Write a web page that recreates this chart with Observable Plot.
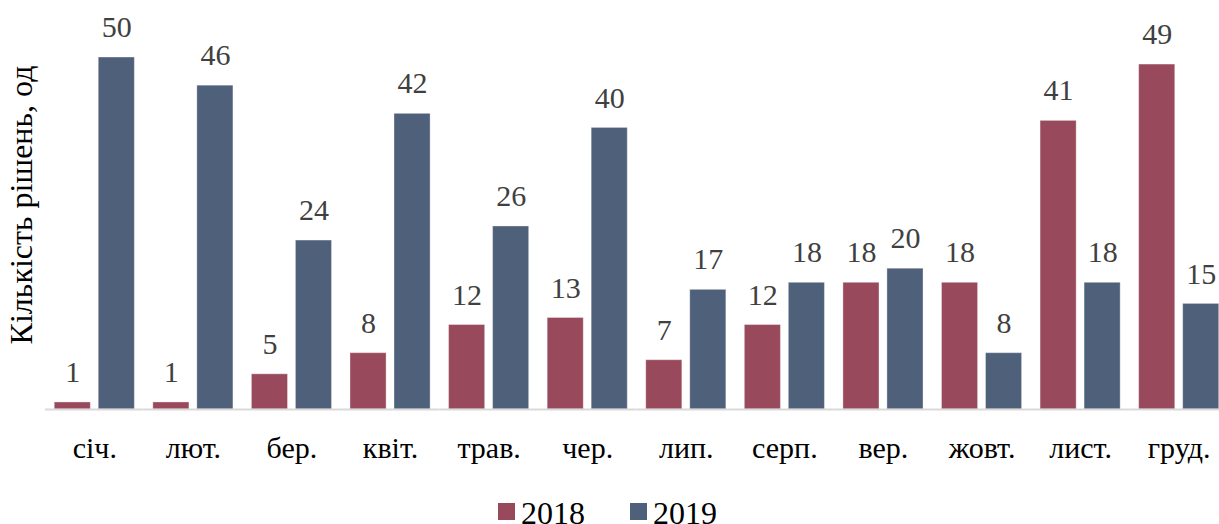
<!DOCTYPE html>
<html>
<head>
<meta charset="utf-8">
<script src="https://cdn.jsdelivr.net/npm/d3@7"></script>
<script src="https://cdn.jsdelivr.net/npm/@observablehq/plot@0.6"></script>
<style>
  html, body { margin: 0; padding: 0; background: white; }
  #chart svg { display: block; }
  #chart svg text { font-family: 'Liberation Serif', 'Times New Roman', serif; }
  #chart svg g[aria-label="y-axis label"] text { font-size: 32px; }
  #legend { position: relative; height: 28px; font-family: 'Liberation Serif', 'Times New Roman', serif; font-size: 32px; line-height: 34px; color: #000; overflow: visible; }
  .item { position: absolute; top: 0; display: flex; align-items: flex-start; }
  .sw { width: 17px; height: 17px; margin-top: 7px; margin-right: 6px; }
</style>
</head>
<body>
<div id="chart"></div>
<div id="legend"></div>
<script>
const months = ["січ.","лют.","бер.","квіт.","трав.","чер.","лип.","серп.","вер.","жовт.","лист.","груд."];
const years = ["2018", "2019"];
const v2018 = [1, 1, 5, 8, 12, 13, 7, 12, 18, 18, 41, 49];
const v2019 = [50, 46, 24, 42, 26, 40, 17, 18, 20, 8, 18, 15];
const colors = ["#984A5C", "#4F607A"];
const yLabel = "Кількість рішень, од";

const rows = [];
months.forEach((m, i) => {
  rows.push({month: m, year: years[0], value: v2018[i]});
  rows.push({month: m, year: years[1], value: v2019[i]});
});

const serif = "'Liberation Serif', 'Times New Roman', serif";

const chart = Plot.plot({
  width: 1219,
  height: 496,
  marginTop: 0,
  marginBottom: 87,
  marginLeft: 45,
  marginRight: 0,
  style: {fontFamily: serif, fontSize: "30px", color: "#000", background: "white"},
  facet: {data: rows, x: "month"},
  fx: {domain: months, range: [45, 1228], padding: 0, round: false, label: null, tickSize: 0, tickPadding: 27},
  x: {domain: years, paddingInner: 0.18, paddingOuter: 0.21, round: false, axis: null},
  y: {domain: [0, 58.1], ticks: [], tickSize: 0, label: yLabel, labelArrow: "none", labelAnchor: "center", labelOffset: 36},
  color: {domain: years, range: colors},
  marks: [
    Plot.barY(rows, {x: "year", y: "value", fill: "year", stroke: "#ffffff", strokeOpacity: 0.35, strokeWidth: 1}),
    Plot.ruleY([0], {stroke: "#d9d9d9", strokeWidth: 2}),
    Plot.text(rows, {x: "year", y: "value", text: d => String(d.value), dy: -30, fill: "#404040", lineAnchor: "middle", fontFamily: serif, fontSize: 30})
  ]
});
document.getElementById("chart").appendChild(chart);

const legend = document.getElementById("legend");
const legendLeft = [498, 630];
years.forEach((yr, i) => {
  const it = document.createElement("div");
  it.className = "item";
  it.style.left = legendLeft[i] + "px";
  const sw = document.createElement("div");
  sw.className = "sw";
  sw.style.background = colors[i];
  const t = document.createElement("span");
  t.textContent = yr;
  it.appendChild(sw);
  it.appendChild(t);
  legend.appendChild(it);
});
</script>
</body>
</html>
